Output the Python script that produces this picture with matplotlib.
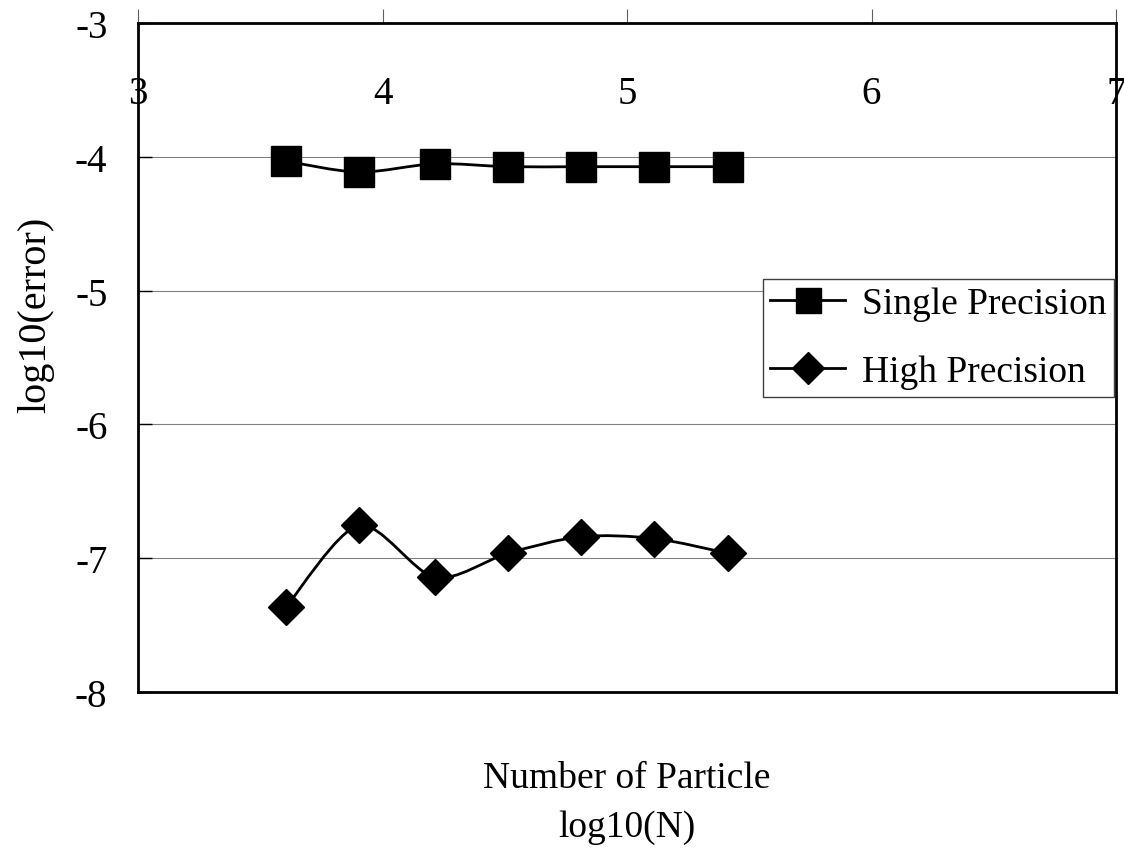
import matplotlib
matplotlib.use("Agg")
import matplotlib.pyplot as plt
import numpy as np
from matplotlib.lines import Line2D
from matplotlib.path import Path
from matplotlib.patches import PathPatch

plt.rcParams["font.family"] = ["Liberation Serif", "DejaVu Serif"]
plt.rcParams["axes.unicode_minus"] = False

# log10(N) for N = 4000 * 2^k
log_n = [3.605, 3.904, 4.215, 4.513, 4.812, 5.112, 5.411]
single_err = [-4.033, -4.115, -4.052, -4.074, -4.074, -4.074, -4.074]
high_err = [-7.367, -6.754, -7.144, -6.963, -6.839, -6.853, -6.963]

x_ticks = [3, 4, 5, 6, 7]
y_ticks = [-8, -7, -6, -5, -4, -3]


def smooth_path(xs, ys, k=7.0):
    # Excel-like smoothed line: cubic bezier through the points
    p = np.column_stack([xs, ys])
    ext = np.vstack([p[0], p, p[-1]])
    verts = [p[0]]
    codes = [Path.MOVETO]
    for i in range(len(p) - 1):
        c1 = ext[i + 1] + (ext[i + 2] - ext[i]) / k
        c2 = ext[i + 2] - (ext[i + 3] - ext[i + 1]) / k
        verts += [c1, c2, ext[i + 2]]
        codes += [Path.CURVE4] * 3
    return Path(verts, codes)


fig = plt.figure(figsize=(11.24, 8.53), dpi=100)
ax = fig.add_axes([0.1228, 0.1876, 0.8701, 0.7843])

ax.set_xlim(3, 7)
ax.set_ylim(-8, -3)

ax.yaxis.grid(True, color="#808080", linewidth=0.8, zorder=0)
ax.set_axisbelow(True)

for xs, ys in [(log_n, single_err), (log_n, high_err)]:
    ax.add_patch(PathPatch(smooth_path(xs, ys), facecolor="none",
                           edgecolor="black", linewidth=2, zorder=2))

ax.plot(log_n, single_err, linestyle="none", marker="s", markersize=21.5,
        color="black", zorder=3)
ax.plot(log_n, high_err, linestyle="none", marker="D", markersize=18,
        color="black", zorder=3)

for side in ["top", "bottom", "left", "right"]:
    ax.spines[side].set_linewidth(2)
    ax.spines[side].set_color("black")

ax.set_xticks(x_ticks)
ax.set_xticklabels([str(t) for t in x_ticks])
ax.set_yticks(y_ticks)
ax.set_yticklabels([str(t) for t in y_ticks])
ax.tick_params(axis="x", top=True, bottom=False, labeltop=True,
               labelbottom=False, direction="out", length=10, width=0.8,
               color="#606060", pad=-74, labelsize=28)
ax.tick_params(axis="y", direction="in", length=10, width=1, color="black",
               pad=22, labelsize=28)

ax.set_ylabel("log10(error)", fontsize=29)
ax.yaxis.set_label_coords(-0.086, 0.565)
ax.set_xlabel("Number of Particle\nlog10(N)", fontsize=27, linespacing=1.54)
ax.xaxis.set_label_position("bottom")
ax.xaxis.set_label_coords(0.5, -0.103)
ax.xaxis.label.set_verticalalignment("top")

handles = [
    Line2D([], [], color="black", linewidth=2, marker="s", markersize=18),
    Line2D([], [], color="black", linewidth=2, marker="D", markersize=16),
]
leg = ax.legend(handles, ["Single Precision", "High Precision"],
                loc="upper left", bbox_to_anchor=(0.639, 0.617),
                fontsize=27, frameon=True, fancybox=False, framealpha=1,
                edgecolor="#404040", borderaxespad=0, borderpad=0.2,
                handlelength=2.0, handletextpad=0.45, labelspacing=0.9)
leg.get_frame().set_linewidth(1)

fig.savefig("out.png", dpi=100)
